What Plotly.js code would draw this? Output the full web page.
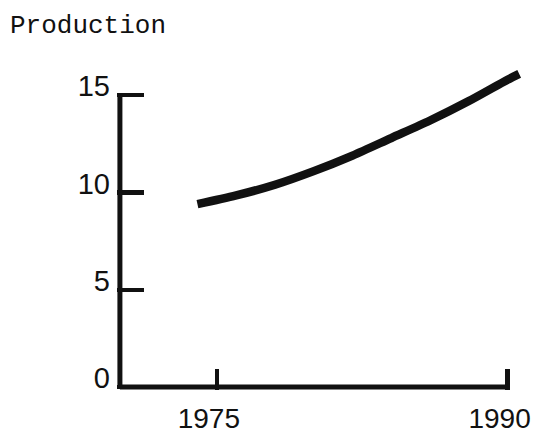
<!DOCTYPE html>
<html>
<head>
<meta charset="utf-8">
<script src="https://cdn.plot.ly/plotly-3.0.1.min.js"></script>
<style>html,body{margin:0;padding:0;background:#fff;}#chart{width:535px;height:436px;}</style>
</head>
<body>
<div id="chart"></div>
<script>
// Data
var years = [1974, 1976, 1978, 1980, 1982, 1984, 1986, 1988, 1990, 1990.6];
var production = [9.4, 9.85, 10.4, 11.1, 11.9, 12.8, 13.7, 14.7, 15.8, 16.1];
var xTickVals = [1975, 1990];
var xTickText = ['1975', '1990'];
var yTickVals = [0, 5, 10, 15];
var yTickText = ['0', '5', '10', '15'];
var xAxisStart = 1970, xAxisEnd = 1990;
var yAxisStart = 0, yAxisEnd = 15;
var titleText = 'Production';

var ink = '#111111';

var trace = {
  x: years,
  y: production,
  type: 'scatter',
  mode: 'lines',
  line: {color: ink, width: 8.5, shape: 'spline', smoothing: 0.8},
  hoverinfo: 'skip',
  showlegend: false
};

var layout = {
  width: 535,
  height: 436,
  margin: {l: 117, r: 10, t: 68, b: 46},
  paper_bgcolor: '#ffffff',
  plot_bgcolor: '#ffffff',
  showlegend: false,
  title: {
    text: titleText,
    xref: 'container', yref: 'container',
    x: 10 / 535, xanchor: 'left',
    y: 1 - 24 / 436, yanchor: 'middle',
    font: {family: 'Liberation Mono, Courier New, monospace', size: 26, color: ink}
  },
  xaxis: {
    range: [1969.85, 1990.9],
    showgrid: false, zeroline: false, showline: false,
    tickmode: 'array', tickvals: xTickVals, ticktext: xTickText,
    ticks: 'inside', ticklen: 21, tickwidth: 4.5, tickcolor: ink,
    ticklabelstandoff: 9, ticklabelshift: -8,
    tickfont: {family: 'Liberation Sans, Arial, sans-serif', size: 28, color: ink},
    fixedrange: true
  },
  yaxis: {
    range: [-0.15, 16.4],
    showgrid: false, zeroline: false, showline: false,
    tickmode: 'array', tickvals: yTickVals, ticktext: yTickText,
    ticks: 'inside', ticklen: 27, tickwidth: 4.5, tickcolor: ink,
    ticklabelstandoff: 6, ticklabelshift: -9,
    tickfont: {family: 'Liberation Sans, Arial, sans-serif', size: 29, color: ink},
    fixedrange: true
  },
  shapes: [
    {type: 'line', xref: 'x', yref: 'y', x0: xAxisStart, x1: xAxisEnd, y0: yAxisStart, y1: yAxisStart,
     line: {color: ink, width: 5}},
    {type: 'line', xref: 'x', yref: 'y', x0: xAxisStart, x1: xAxisStart, y0: yAxisStart, y1: yAxisEnd,
     line: {color: ink, width: 5}}
  ]
};

Plotly.newPlot('chart', [trace], layout, {displayModeBar: false, staticPlot: true});
</script>
</body>
</html>
